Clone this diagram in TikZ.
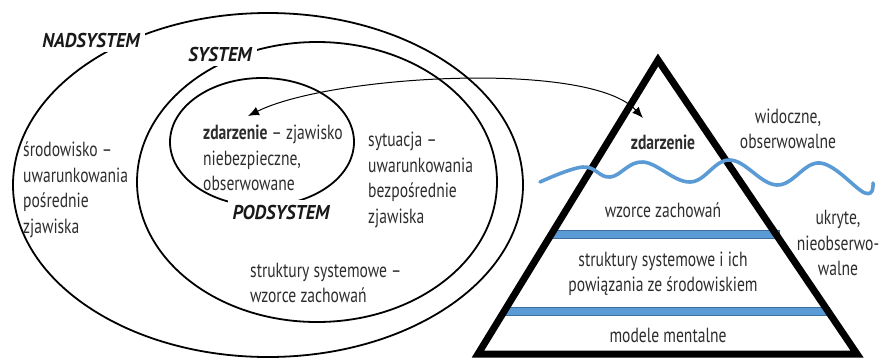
\documentclass[tikz,border=0pt]{standalone}
\usepackage{fontspec}
\setmainfont{PT Sans}[FakeStretch=0.76]
\newfontfamily\labfont{PT Sans}[FakeStretch=0.93]
\usetikzlibrary{shapes.geometric,arrows.meta}
\definecolor{wave}{RGB}{91,155,213}
\definecolor{waveedge}{RGB}{60,110,160}
\definecolor{txt}{RGB}{45,45,45}
\tikzset{
  ring/.style={draw=black, line width=1.8pt, ellipse, inner sep=0pt, fill=none},
  sysname/.style={fill=white, inner sep=5pt, text=black!90, font=\labfont\fontsize{20}{25}\selectfont\bfseries\itshape},
  body/.style={inner sep=0pt, text=txt, font=\fontsize{20.5}{25.5}\selectfont},
  band/.style={fill=wave, draw=waveedge, line width=0.9pt},
  pyr/.style={draw=black, line width=7pt, line join=miter},
  link/.style={draw=black, line width=1pt, {Latex[length=11pt,width=9pt]}-{Latex[length=11pt,width=9pt]}}
}
\begin{document}
\begin{tikzpicture}[x=1pt,y=-1pt]
\useasboundingbox (0,0) rectangle (881,360);
% ellipses
\node[ring, minimum width=510pt, minimum height=344pt] (nad) at (268,185) {};
\node[ring, minimum width=360pt, minimum height=280pt] (sys) at (317,182) {};
\node[ring, minimum width=184pt, minimum height=128pt] (pod) at (262,142) {};
% system labels
\node[sysname] (nadlab) at (91,40) {NADSYSTEM};
\node[sysname] (syslab) at (220,54) {SYSTEM};
\node[sysname] (podlab) at (281,212) {PODSYSTEM};
% texts in ellipses
\node[body, anchor=west, align=left] (srod) at (23,190) {środowisko –\\uwarunkowania\\pośrednie\\zjawiska};
\node[body, anchor=west, align=left] (zdarz) at (203,158) {\textbf{zdarzenie} – zjawisko\\niebezpieczne,\\obserwowane};
\node[body, anchor=west, align=left] (syt) at (368,180) {sytuacja –\\uwarunkowania\\bezpośrednie\\zjawiska};
\node[body, anchor=west, align=left] (strukt) at (250,283) {struktury systemowe –\\wzorce zachowań};
% pyramid bands
\draw[band] (551,230) rectangle (779,238);
\draw[band] (504,307) rectangle (829,315);
% pyramid
\coordinate (apex) at (658,60);
\coordinate (bl) at (478,354);
\coordinate (br) at (857,354);
\draw[pyr] (apex) -- (bl) -- (br) -- cycle;
% wave
\draw[wave, line width=3.6pt, line cap=round] plot[smooth, tension=0.65] coordinates {(540,182) (583,167) (610,177) (643,162) (690,182) (730,160) (777,185) (820,163) (865,193) (873,183)};
% pyramid texts
\node[body, font=\fontsize{20.5}{25.5}\selectfont\bfseries] (pzd) at (663,142) {zdarzenie};
\node[body, align=center] (wid) at (788,129) {widoczne,\\obserwowalne};
\node[body] (wzor) at (663,210) {wzorce zachowań};
\node[body, align=center] (pstr) at (663,274) {struktury systemowe i ich\\powiązania ze środowiskiem};
\node[body] (model) at (668,335) {modele mentalne};
\node[body, align=center] (ukr) at (838,243) {ukryte,\\nieobserwo-\\walne};
% double arrow
\coordinate (arrL) at (248,116);
\coordinate (arrR) at (643,118);
\draw[link] (arrL) .. controls (330,75) and (590,60) .. (arrR);
\end{tikzpicture}
\end{document}
